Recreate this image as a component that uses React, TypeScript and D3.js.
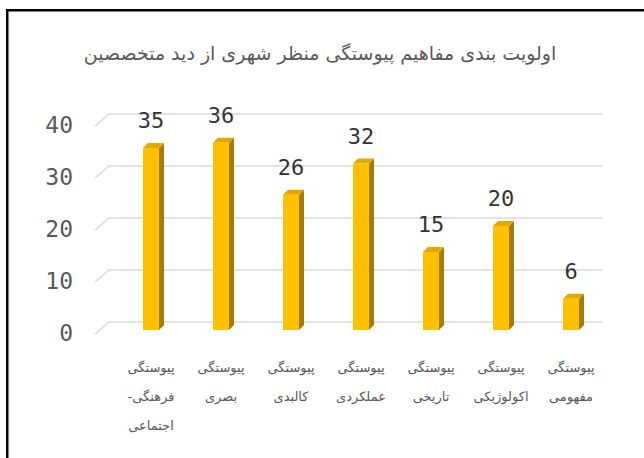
import React from "react";
import * as d3 from "d3";

const title = "اولویت بندی مفاهیم پیوستگی منظر شهری از دید متخصصین";
const categories = [
  ["پیوستگی", "فرهنگی-", "اجتماعی"],
  ["پیوستگی", "بصری"],
  ["پیوستگی", "کالبدی"],
  ["پیوستگی", "عملکردی"],
  ["پیوستگی", "تاریخی"],
  ["پیوستگی", "اکولوژیکی"],
  ["پیوستگی", "مفهومی"],
];
const values = [35, 36, 26, 32, 15, 20, 6];
const yTicks = [0, 10, 20, 30, 40];

export default function App() {
  const W = 644, H = 458;
  const keys = categories.map((_, i) => String(i));
  const x = d3.scaleBand<string>().domain(keys).range([116, 606]);
  const y = d3.scaleLinear().domain([0, 40]).range([330, 122]);
  const barW = 16, dep = 5;
  const front = "#FFC000", side = "#A67C00", top = "#E0A800";
  const txt = "#595959";
  const arabicFont = "'DejaVu Sans', 'Noto Sans', sans-serif";
  const monoFont = "'DejaVu Sans Mono', monospace";

  return (
    <svg width={W} height={H} style={{ position: "absolute", left: 0, top: 0, background: "#fff" }}>
      <rect x={0} y={0} width={W} height={H} fill="#fff" />
      <rect x={7.25} y={10.25} width={W + 20} height={H + 20} fill="none" stroke="#000" strokeWidth={2.5} />
      <text x={320} y={60} textAnchor="middle" fontSize={19} fill={txt} fontFamily={arabicFont} direction="rtl">
        {title}
      </text>
      {yTicks.map((t) => {
        const yb = y(t) - 8;
        return (
          <g key={t}>
            <path d={`M95,${yb + 12}L109,${yb}L602,${yb}`} fill="none" stroke="#d9d9d9" strokeWidth={1.5} />
            <text x={73} y={y(t) + 3} textAnchor="end" dominantBaseline="central" fontSize={23} fill={txt} fontFamily={monoFont}>
              {t}
            </text>
          </g>
        );
      })}
      {values.map((v, i) => {
        const cx = (x(String(i)) as number) + x.bandwidth() / 2;
        const x0 = cx - barW / 2, x1 = cx + barW / 2;
        const yt = y(v), yb = y(0);
        return (
          <g key={i}>
            <path d={`M${x1},${yb}L${x1 + dep},${yb - dep}L${x1 + dep},${yt - dep}L${x1},${yt}Z`} fill={side} />
            <path d={`M${x0},${yt}L${x0 + dep},${yt - dep}L${x1 + dep},${yt - dep}L${x1},${yt}Z`} fill={top} />
            <rect x={x0} y={yt} width={barW} height={yb - yt} fill={front} />
            <text x={cx} y={yt - 20} textAnchor="middle" fontSize={22} fill="#333" fontFamily={monoFont}>
              {v}
            </text>
            {categories[i].map((line, j) => (
              <text key={j} x={cx} y={372 + j * 29} textAnchor="middle" fontSize={13} fill={txt} fontFamily={arabicFont} direction="rtl">
                {line}
              </text>
            ))}
          </g>
        );
      })}
    </svg>
  );
}
